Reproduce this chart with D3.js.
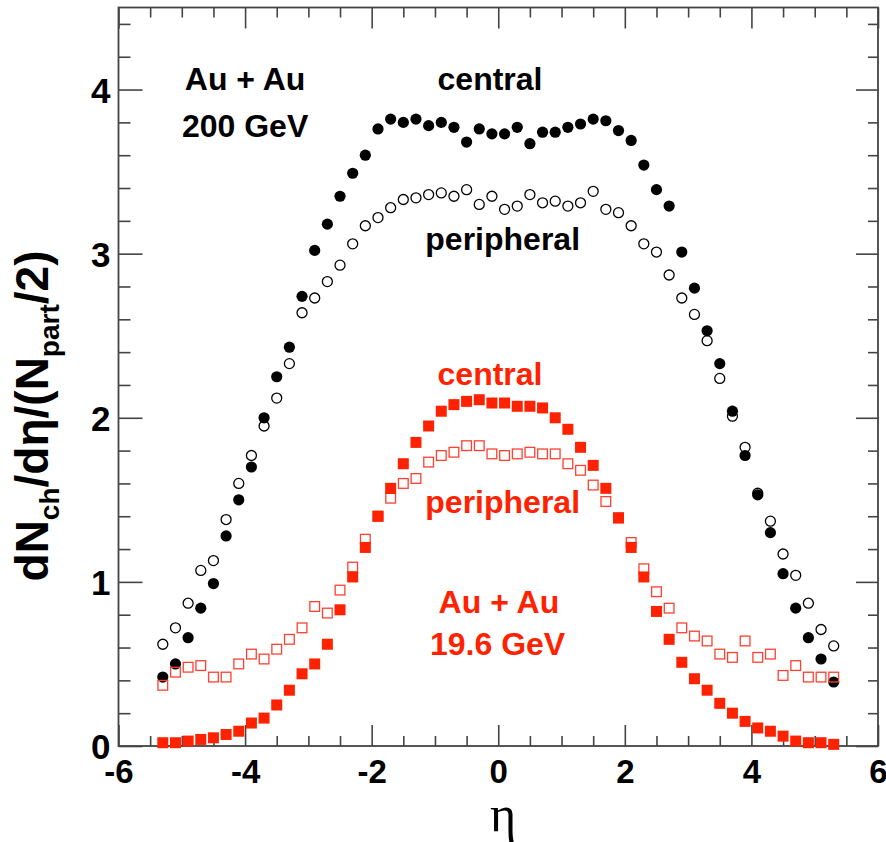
<!DOCTYPE html>
<html>
<head>
<meta charset="utf-8">
<script src="https://cdn.jsdelivr.net/npm/d3@7/dist/d3.min.js"></script>
<style>
  html, body { margin: 0; padding: 0; background: #fff; }
  svg { display: block; }
</style>
</head>
<body>
<svg id="chart" width="886" height="842"></svg>
<script>
// ---------------- data ----------------
const eta = [-5.3,-5.1,-4.9,-4.7,-4.5,-4.3,-4.1,-3.9,-3.7,-3.5,-3.3,-3.1,-2.9,-2.7,-2.5,-2.3,-2.1,-1.9,-1.7,-1.5,-1.3,-1.1,-0.9,-0.7,-0.5,-0.3,-0.1,
             0.1,0.3,0.5,0.7,0.9,1.1,1.3,1.5,1.7,1.9,2.1,2.3,2.5,2.7,2.9,3.1,3.3,3.5,3.7,3.9,4.1,4.3,4.5,4.7,4.9,5.1,5.3];

const central200 = [0.42,0.50,0.66,0.84,0.99,1.28,1.50,1.70,2.00,2.25,2.43,2.74,3.02,3.18,3.35,3.49,3.60,3.76,3.82,3.80,3.82,3.78,3.80,3.77,3.68,3.76,3.73,
                    3.73,3.77,3.67,3.74,3.74,3.77,3.79,3.82,3.81,3.75,3.69,3.54,3.39,3.29,3.01,2.79,2.53,2.33,2.04,1.77,1.53,1.30,1.05,0.84,0.66,0.53,0.39];

const peripheral200 = [0.62,0.72,0.87,1.07,1.13,1.38,1.60,1.77,1.95,2.12,2.33,2.64,2.73,2.83,2.93,3.06,3.17,3.22,3.28,3.33,3.34,3.36,3.37,3.35,3.39,3.30,3.35,
                       3.27,3.29,3.36,3.31,3.32,3.29,3.31,3.38,3.27,3.25,3.17,3.06,3.01,2.87,2.73,2.63,2.47,2.24,2.01,1.82,1.54,1.37,1.17,1.04,0.87,0.71,0.61];

const central19 = [0.02,0.02,0.03,0.04,0.05,0.07,0.09,0.14,0.17,0.25,0.34,0.44,0.50,0.62,0.83,1.03,1.21,1.40,1.57,1.72,1.85,1.95,2.04,2.08,2.10,2.11,2.09,
                   2.09,2.07,2.07,2.06,2.00,1.93,1.82,1.71,1.57,1.39,1.21,1.03,0.82,0.65,0.51,0.41,0.34,0.26,0.20,0.15,0.11,0.09,0.06,0.03,0.02,0.02,0.01];

const peripheral19 = [0.37,0.45,0.48,0.49,0.42,0.42,0.50,0.56,0.53,0.59,0.65,0.72,0.85,0.81,0.95,1.09,1.26,1.40,1.51,1.60,1.63,1.73,1.77,1.79,1.83,1.83,1.78,
                      1.77,1.78,1.79,1.78,1.78,1.72,1.68,1.59,1.49,1.39,1.24,1.08,0.94,0.84,0.72,0.67,0.64,0.56,0.54,0.64,0.54,0.56,0.43,0.49,0.42,0.42,0.42];

const xMajorTicks = [-6,-4,-2,0,2,4,6];
const xMinorTicks = [-5.5,-5,-4.5,-3.5,-3,-2.5,-1.5,-1,-0.5,0.5,1,1.5,2.5,3,3.5,4.5,5,5.5];
const yMajorTicks = [0,1,2,3,4];
const yMinorTicks = [0.2,0.4,0.6,0.8,1.2,1.4,1.6,1.8,2.2,2.4,2.6,2.8,3.2,3.4,3.6,3.8,4.2,4.4];

const annotations = [
  {text: "Au + Au", x: -4.0, y: 4.0, color: "black"},
  {text: "200 GeV", x: -4.0, y: 3.71, color: "black"},
  {text: "central", x: -0.13, y: 4.0, color: "black"},
  {text: "peripheral", x: 0.07, y: 3.02, color: "black"},
  {text: "central", x: -0.13, y: 2.2, color: "red"},
  {text: "peripheral", x: 0.07, y: 1.42, color: "red"},
  {text: "Au + Au", x: 0.01, y: 0.81, color: "red"},
  {text: "19.6 GeV", x: -0.01, y: 0.555, color: "red"}
];

// ---------------- layout ----------------
const RED = "#ff2200";
const svg = d3.select("#chart");
const plotL = 118.5, plotR = 878, plotT = 7.5, plotB = 746;
const x = d3.scaleLinear().domain([-6, 6]).range([plotL, plotR]);
const y = d3.scaleLinear().domain([0, 4.5]).range([plotB, plotT]);
const FONT = "'Liberation Sans', Arial, Helvetica, sans-serif";
const AXIS_COLOR = "#444";

function styleAxis(g) {
  g.select(".domain").remove();
  g.selectAll(".tick line").attr("stroke", AXIS_COLOR).attr("stroke-width", 1.6);
}

// bottom axis
svg.append("g").attr("transform", `translate(0,${plotB})`)
  .call(d3.axisBottom(x).tickValues(xMajorTicks).tickSize(-21).tickPadding(0).tickFormat(d3.format("d")))
  .call(styleAxis)
  .call(g => g.selectAll("text")
     .attr("y", 37).attr("dy", null)
     .attr("font-family", FONT).attr("font-weight", "bold").attr("font-size", 33).attr("fill", "#000")
     .text(d => d < 0 ? "-" + Math.abs(d) : d));
svg.append("g").attr("transform", `translate(0,${plotB})`)
  .call(d3.axisBottom(x).tickValues(xMinorTicks).tickSize(-10).tickFormat(""))
  .call(styleAxis);
// top axis
svg.append("g").attr("transform", `translate(0,${plotT})`)
  .call(d3.axisTop(x).tickValues(xMajorTicks).tickSize(-21).tickFormat(""))
  .call(styleAxis);
svg.append("g").attr("transform", `translate(0,${plotT})`)
  .call(d3.axisTop(x).tickValues(xMinorTicks).tickSize(-10).tickFormat(""))
  .call(styleAxis);
// left axis
svg.append("g").attr("transform", `translate(${plotL},0)`)
  .call(d3.axisLeft(y).tickValues(yMajorTicks).tickSize(-24).tickPadding(8).tickFormat(d3.format("d")))
  .call(styleAxis)
  .call(g => g.selectAll("text")
     .attr("dy", "0.36em")
     .attr("font-family", FONT).attr("font-weight", "bold").attr("font-size", 35).attr("fill", "#000"));
svg.append("g").attr("transform", `translate(${plotL},0)`)
  .call(d3.axisLeft(y).tickValues(yMinorTicks).tickSize(-12).tickFormat(""))
  .call(styleAxis);
// right axis
svg.append("g").attr("transform", `translate(${plotR},0)`)
  .call(d3.axisRight(y).tickValues(yMajorTicks).tickSize(-22).tickFormat(""))
  .call(styleAxis);
svg.append("g").attr("transform", `translate(${plotR},0)`)
  .call(d3.axisRight(y).tickValues(yMinorTicks).tickSize(-10).tickFormat(""))
  .call(styleAxis);

// frame
svg.append("rect")
  .attr("x", plotL).attr("y", plotT)
  .attr("width", plotR - plotL).attr("height", plotB - plotT)
  .attr("fill", "none").attr("stroke", AXIS_COLOR).attr("stroke-width", 1.8);

// ---------------- markers ----------------
const R = 5.6, S = 11;
const pts = (vals) => eta.map((e, i) => ({e, v: vals[i]}));

svg.append("g").selectAll("circle").data(pts(peripheral200)).join("circle")
  .attr("cx", d => x(d.e)).attr("cy", d => y(d.v)).attr("r", R - 0.6)
  .attr("fill", "none").attr("stroke", "#000").attr("stroke-width", 1.3);

svg.append("g").selectAll("circle").data(pts(central200)).join("circle")
  .attr("cx", d => x(d.e)).attr("cy", d => y(d.v)).attr("r", R)
  .attr("fill", "#000");

svg.append("g").selectAll("rect").data(pts(peripheral19)).join("rect")
  .attr("x", d => x(d.e) - (S - 1.3) / 2).attr("y", d => y(d.v) - (S - 1.3) / 2)
  .attr("width", S - 1.3).attr("height", S - 1.3)
  .attr("fill", "none").attr("stroke", "#ff4030").attr("stroke-width", 1.3);

svg.append("g").selectAll("rect").data(pts(central19)).join("rect")
  .attr("x", d => x(d.e) - S / 2).attr("y", d => y(d.v) - S / 2)
  .attr("width", S).attr("height", S)
  .attr("fill", RED);

// ---------------- annotations ----------------
svg.append("g").selectAll("text").data(annotations).join("text")
  .attr("x", d => x(d.x)).attr("y", d => y(d.y))
  .attr("text-anchor", "middle")
  .attr("font-family", FONT).attr("font-weight", "bold").attr("font-size", 32)
  .attr("fill", d => d.color === "red" ? RED : "#000")
  .text(d => d.text);

// x axis title
svg.append("text")
  .attr("x", 503).attr("y", 831)
  .attr("text-anchor", "middle")
  .attr("font-family", "'Liberation Serif', 'Times New Roman', serif")
  .attr("font-size", 50).attr("fill", "#000")
  .text("η");

// y axis title
const yt = svg.append("text")
  .attr("transform", "translate(48,416) rotate(-90)")
  .attr("text-anchor", "middle")
  .attr("font-family", FONT).attr("font-weight", "bold").attr("font-size", 46).attr("fill", "#000");
yt.append("tspan").text("dN");
yt.append("tspan").attr("dy", 11).attr("font-size", 28).text("ch");
yt.append("tspan").attr("dy", -11).text("/dη/(N");
yt.append("tspan").attr("dy", 11).attr("font-size", 28).text("part");
yt.append("tspan").attr("dy", -11).text("/2)");
</script>
</body>
</html>
